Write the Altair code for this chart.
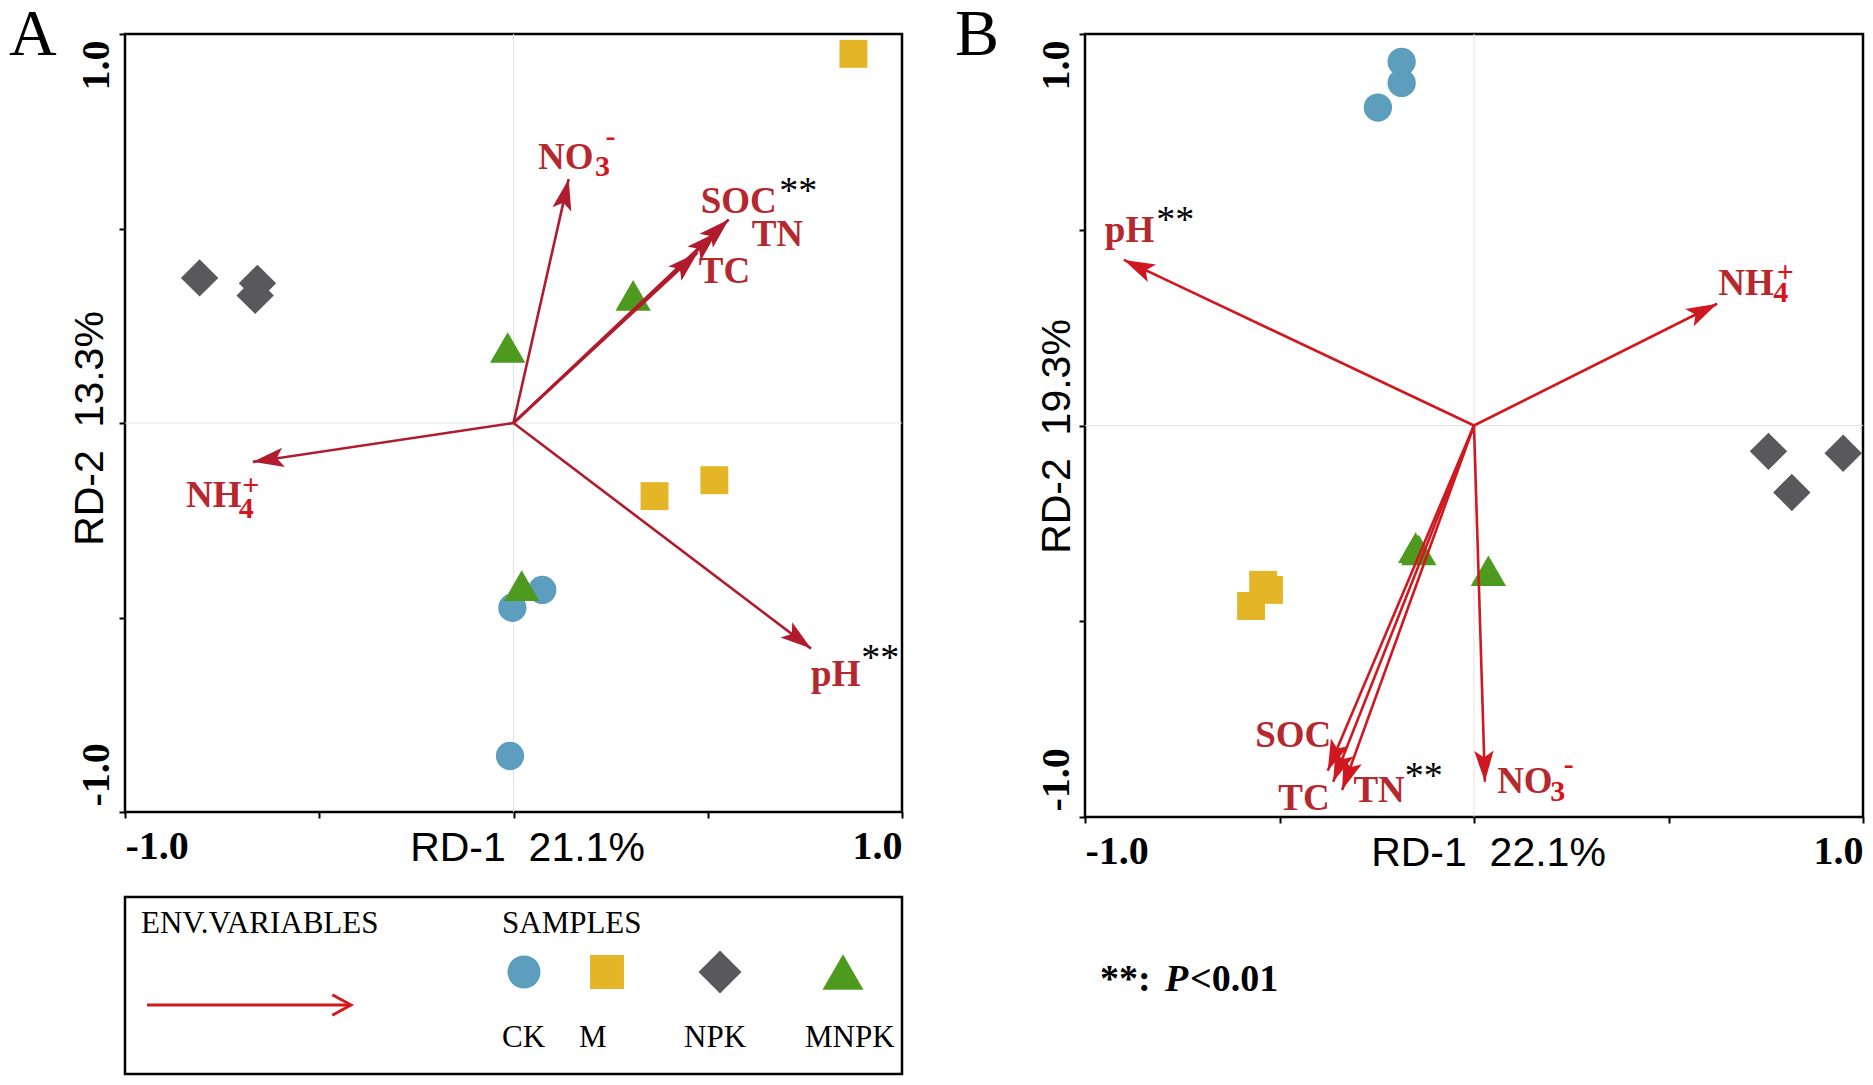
import math
import altair as alt
import pandas as pd

# ---------------- data ----------------
groups = ["CK", "CK", "CK", "M", "M", "M", "NPK", "NPK", "NPK", "MNPK", "MNPK", "MNPK"]
group_order = ["CK", "M", "NPK", "MNPK"]
group_colors = ["#5d9dbd", "#e5b528", "#59595c", "#4e9a1f"]
group_shapes = ["circle", "square", "diamond", "triangle-up"]
group_sizes = [800, 780, 1400, 1250]

# Panel A sample scores (RD-1, RD-2)
a_x = [0.074, -0.003, -0.009, 0.875, 0.517, 0.363, -0.808, -0.659, -0.665, 0.308, -0.015, 0.021]
a_y = [-0.429, -0.475, -0.856, 0.949, -0.147, -0.188, 0.373, 0.359, 0.328, 0.328, 0.194, -0.418]
# Panel B sample scores
b_x = [-0.186, -0.186, -0.247, -0.542, -0.527, -0.573, 0.757, 0.949, 0.817, -0.150, -0.142, 0.037]
b_y = [0.929, 0.875, 0.812, -0.407, -0.420, -0.461, -0.066, -0.071, -0.171, -0.312, -0.318, -0.371]

env_vars = ["SOC", "TN", "TC", "NO3", "NH4", "pH"]
a_arrow_x = [0.554, 0.523, 0.474, 0.142, -0.671, 0.766]
a_arrow_y = [0.523, 0.490, 0.438, 0.627, -0.100, -0.580]
b_arrow_x = [-0.376, -0.339, -0.362, 0.028, 0.625, -0.900]
b_arrow_y = [-0.882, -0.931, -0.910, -0.910, 0.311, 0.423]

# arrow labels (left edge, baseline) in axis units
a_lab_text = ["SOC", "TN", "TC", "NO", "NH", "pH"]
a_lab_x = [0.482, 0.613, 0.477, 0.063, -0.843, 0.766]
a_lab_y = [0.540, 0.455, 0.359, 0.653, -0.216, -0.675]
a_sub_text = ["3", "4"]
a_sub_x = [0.210, -0.707]
a_sub_y = [0.636, -0.244]
a_sup_text = ["-", "+"]
a_sup_x = [0.237, -0.698]
a_sup_y = [0.712, -0.186]
a_star_x = [0.684, 0.895]
a_star_y = [0.566, -0.634]

b_lab_text = ["SOC", "TN", "TC", "NO", "NH", "pH"]
b_lab_x = [-0.5625, -0.310, -0.503, 0.0595, 0.628, -0.949]
b_lab_y = [-0.822, -0.962, -0.983, -0.938, 0.333, 0.469]
b_sub_text = ["3", "4"]
b_sub_x = [0.196, 0.769]
b_sub_y = [-0.960, 0.315]
b_sup_text = ["-", "+"]
b_sup_x = [0.231, 0.778]
b_sup_y = [-0.889, 0.366]
b_star_x = [-0.817, -0.178]
b_star_y = [0.494, -0.926]

# ---------------- styles ----------------
SERIF = "Liberation Serif"
SANS = "Liberation Sans"
LAB_COL = "#b5282e"
SUB_COL = "#d7141c"
HEAD = "M0,0 L0.5,1.6 L0,1.25 L-0.5,1.6 Z"
CHEVRON = "M-0.55,1 L0,0 L0.55,1"
SP = "\u00a0\u00a0"

dummy = pd.DataFrame({"d": [1]})


def make_axes(xtitle, ytitle, tx, ty, yx, yy):
    xaxis = alt.Axis(
        values=[-1, -0.5, 0, 0.5, 1],
        labelExpr="datum.value == 1 ? '1.0' : (datum.value == -1 ? '-1.0' : '')",
        labelAlign={"condition": {"test": "datum.value < 0", "value": "left"}, "value": "right"},
        labelBaseline="top",
        labelPadding=8,
        title=xtitle,
        titleX=tx, titleY=ty, titleAlign="center", titleBaseline="alphabetic", titleAngle=0,
    )
    yaxis = alt.Axis(
        values=[-1, -0.5, 0, 0.5, 1],
        labelExpr="datum.value == 1 ? '1.0' : (datum.value == -1 ? '-1.0' : '')",
        labelAngle=270,
        labelAlign={"condition": {"test": "datum.value < 0", "value": "left"}, "value": "right"},
        labelBaseline="alphabetic",
        labelPadding=11,
        labelOffset={"condition": {"test": "datum.value > 0", "value": 6}, "value": -6},
        title=ytitle,
        titleX=yx, titleY=yy, titleAlign="center", titleBaseline="alphabetic", titleAngle=270,
    )
    return xaxis, yaxis


def panel(sx, sy, ax_, ay_, labs, subs, sups, stars, w, h, xtitle, ytitle, axpos,
          arrow_col, extras):
    scale = alt.Scale(domain=[-1, 1], nice=False, zero=False)
    xaxis, yaxis = make_axes(xtitle, ytitle, *axpos)

    def X(f):
        return alt.X(f, type="quantitative", scale=scale, axis=xaxis)

    def Y(f):
        return alt.Y(f, type="quantitative", scale=scale, axis=yaxis)

    size_of = dict(zip(group_order, group_sizes))
    samples = pd.DataFrame({"x": sx, "y": sy, "g": groups})
    samples["sz"] = [size_of[g] for g in groups]
    arr = pd.DataFrame({"v": env_vars, "x": ax_, "y": ay_})
    arr["x0"] = 0.0
    arr["y0"] = 0.0
    arr["ang"] = [
        (math.degrees(math.atan2(x * w / 2, y * h / 2)) + 360) % 360 for x, y in zip(ax_, ay_)
    ]

    zero_x = alt.Chart(dummy).mark_rule(color="#e4e4e4", strokeWidth=1).encode(x=alt.datum(0, scale=scale))
    zero_y = alt.Chart(dummy).mark_rule(color="#e4e4e4", strokeWidth=1).encode(y=alt.datum(0, scale=scale))

    pts = alt.Chart(samples).mark_point(filled=True, opacity=1, strokeWidth=0).encode(
        x=X("x"), y=Y("y"),
        color=alt.Color("g:N", scale=alt.Scale(domain=group_order, range=group_colors), legend=None),
        shape=alt.Shape("g:N", scale=alt.Scale(domain=group_order, range=group_shapes), legend=None),
        size=alt.Size("sz:Q", scale=None, legend=None),
    )

    lines = alt.Chart(arr).mark_rule(color=arrow_col, strokeWidth=2.6).encode(
        x=X("x0"), y=Y("y0"), x2="x", y2="y"
    )
    heads = alt.Chart(arr).mark_point(shape=HEAD, filled=True, color=arrow_col, opacity=1,
                                      size=1500, strokeWidth=0).encode(
        x=X("x"), y=Y("y"), angle=alt.Angle("ang:Q", scale=None)
    )

    def text_layer(t, x, y, size, color, weight="bold"):
        df = pd.DataFrame({"t": t, "x": x, "y": y})
        return alt.Chart(df).mark_text(align="left", baseline="alphabetic", font=SERIF,
                                       fontSize=size, fontWeight=weight, color=color).encode(
            x=X("x"), y=Y("y"), text="t:N")

    lab_layer = text_layer(labs[0], labs[1], labs[2], 37, LAB_COL)
    sub_layer = text_layer(subs[0], subs[1], subs[2], 30, SUB_COL)
    sup_layer = text_layer(sups[0], sups[1], sups[2], 30, SUB_COL)
    star_layer = text_layer(["**", "**"], stars[0], stars[1], 38, "black", "normal")

    layers = [zero_x, zero_y, pts, lines, heads, lab_layer, sub_layer, sup_layer, star_layer] + extras
    return alt.layer(*layers).properties(width=w, height=h)


def ptext(txt, x, y, size, weight="normal", style="normal", color="black", font=SERIF):
    return alt.Chart(dummy).mark_text(align="left", baseline="alphabetic", font=font, fontSize=size,
                                      fontWeight=weight, fontStyle=style, color=color).encode(
        x=alt.value(x), y=alt.value(y), text=alt.value(txt))


# ---------- legend (panel A, pixel placement below the plot) ----------
leg_sym_x = [399, 482, 595, 718]
leg_lab_x = [377, 454, 559, 680]
leg_sizes = [1090, 1150, 1850, 1680]
legend_layers = [
    alt.Chart(dummy).mark_rect(fillOpacity=0, stroke="black", strokeWidth=2.5).encode(
        x=alt.value(0), x2=alt.value(777), y=alt.value(863), y2=alt.value(1040)),
    ptext("ENV.VARIABLES", 16, 899, 31),
    ptext("SAMPLES", 377, 899, 31),
    alt.Chart(dummy).mark_rule(color="#d01a1f", strokeWidth=3).encode(
        x=alt.value(22), x2=alt.value(224), y=alt.value(971)),
    alt.Chart(dummy).mark_point(shape=CHEVRON, filled=False, color="#d01a1f", strokeWidth=3,
                                size=1400, angle=90, opacity=1).encode(
        x=alt.value(226), y=alt.value(971)),
]
for g, c, s, px, lx, sz in zip(group_order, group_colors, group_shapes, leg_sym_x, leg_lab_x, leg_sizes):
    legend_layers.append(
        alt.Chart(dummy).mark_point(shape=s, filled=True, color=c, size=sz, opacity=1, strokeWidth=0).encode(
            x=alt.value(px), y=alt.value(938)))
    legend_layers.append(ptext(g, lx, 1013, 31))
legend_layers.append(ptext("A", -116, 21, 66))

b_extras = [
    ptext("B", -130, 21, 66),
    ptext("**:", 15, 957, 38, weight="bold"),
    ptext("P", 80, 957, 38, weight="bold", style="italic"),
    ptext("<0.01", 105, 957, 38, weight="bold"),
]

panel_a = panel(a_x, a_y, a_arrow_x, a_arrow_y,
                (a_lab_text, a_lab_x, a_lab_y), (a_sub_text, a_sub_x, a_sub_y),
                (a_sup_text, a_sup_x, a_sup_y), (a_star_x, a_star_y),
                777, 778, "RD-1" + SP + "21.1%", "RD-2" + SP + "13.3%", (402, 48, -23, 394),
                "#b01c2e", legend_layers)

panel_b = panel(b_x, b_y, b_arrow_x, b_arrow_y,
                (b_lab_text, b_lab_x, b_lab_y), (b_sub_text, b_sub_x, b_sub_y),
                (b_sup_text, b_sup_x, b_sup_y), (b_star_x, b_star_y),
                778, 783, "RD-1" + SP + "22.1%", "RD-2" + SP + "19.3%", (403, 48, -16, 402),
                "#d01820", b_extras)

chart = alt.hconcat(panel_a, panel_b, spacing=183, bounds="flush").properties(
    autosize=alt.AutoSizeParams(type="none"),
    padding={"left": 117, "top": 26, "right": 1740, "bottom": 1043},
).configure_view(
    stroke="black", strokeWidth=2.5
).configure_axis(
    domain=False, grid=False, ticks=True, tickColor="black", tickWidth=2, tickSize=6,
    labelFont=SERIF, labelFontWeight="bold", labelFontSize=40, labelColor="black",
    titleFont=SANS, titleFontWeight="normal", titleFontSize=41, titleColor="black",
    labelFlush=False, labelOverlap=False,
)

chart.save("out.html", embed_options={"renderer": "svg", "actions": False})
